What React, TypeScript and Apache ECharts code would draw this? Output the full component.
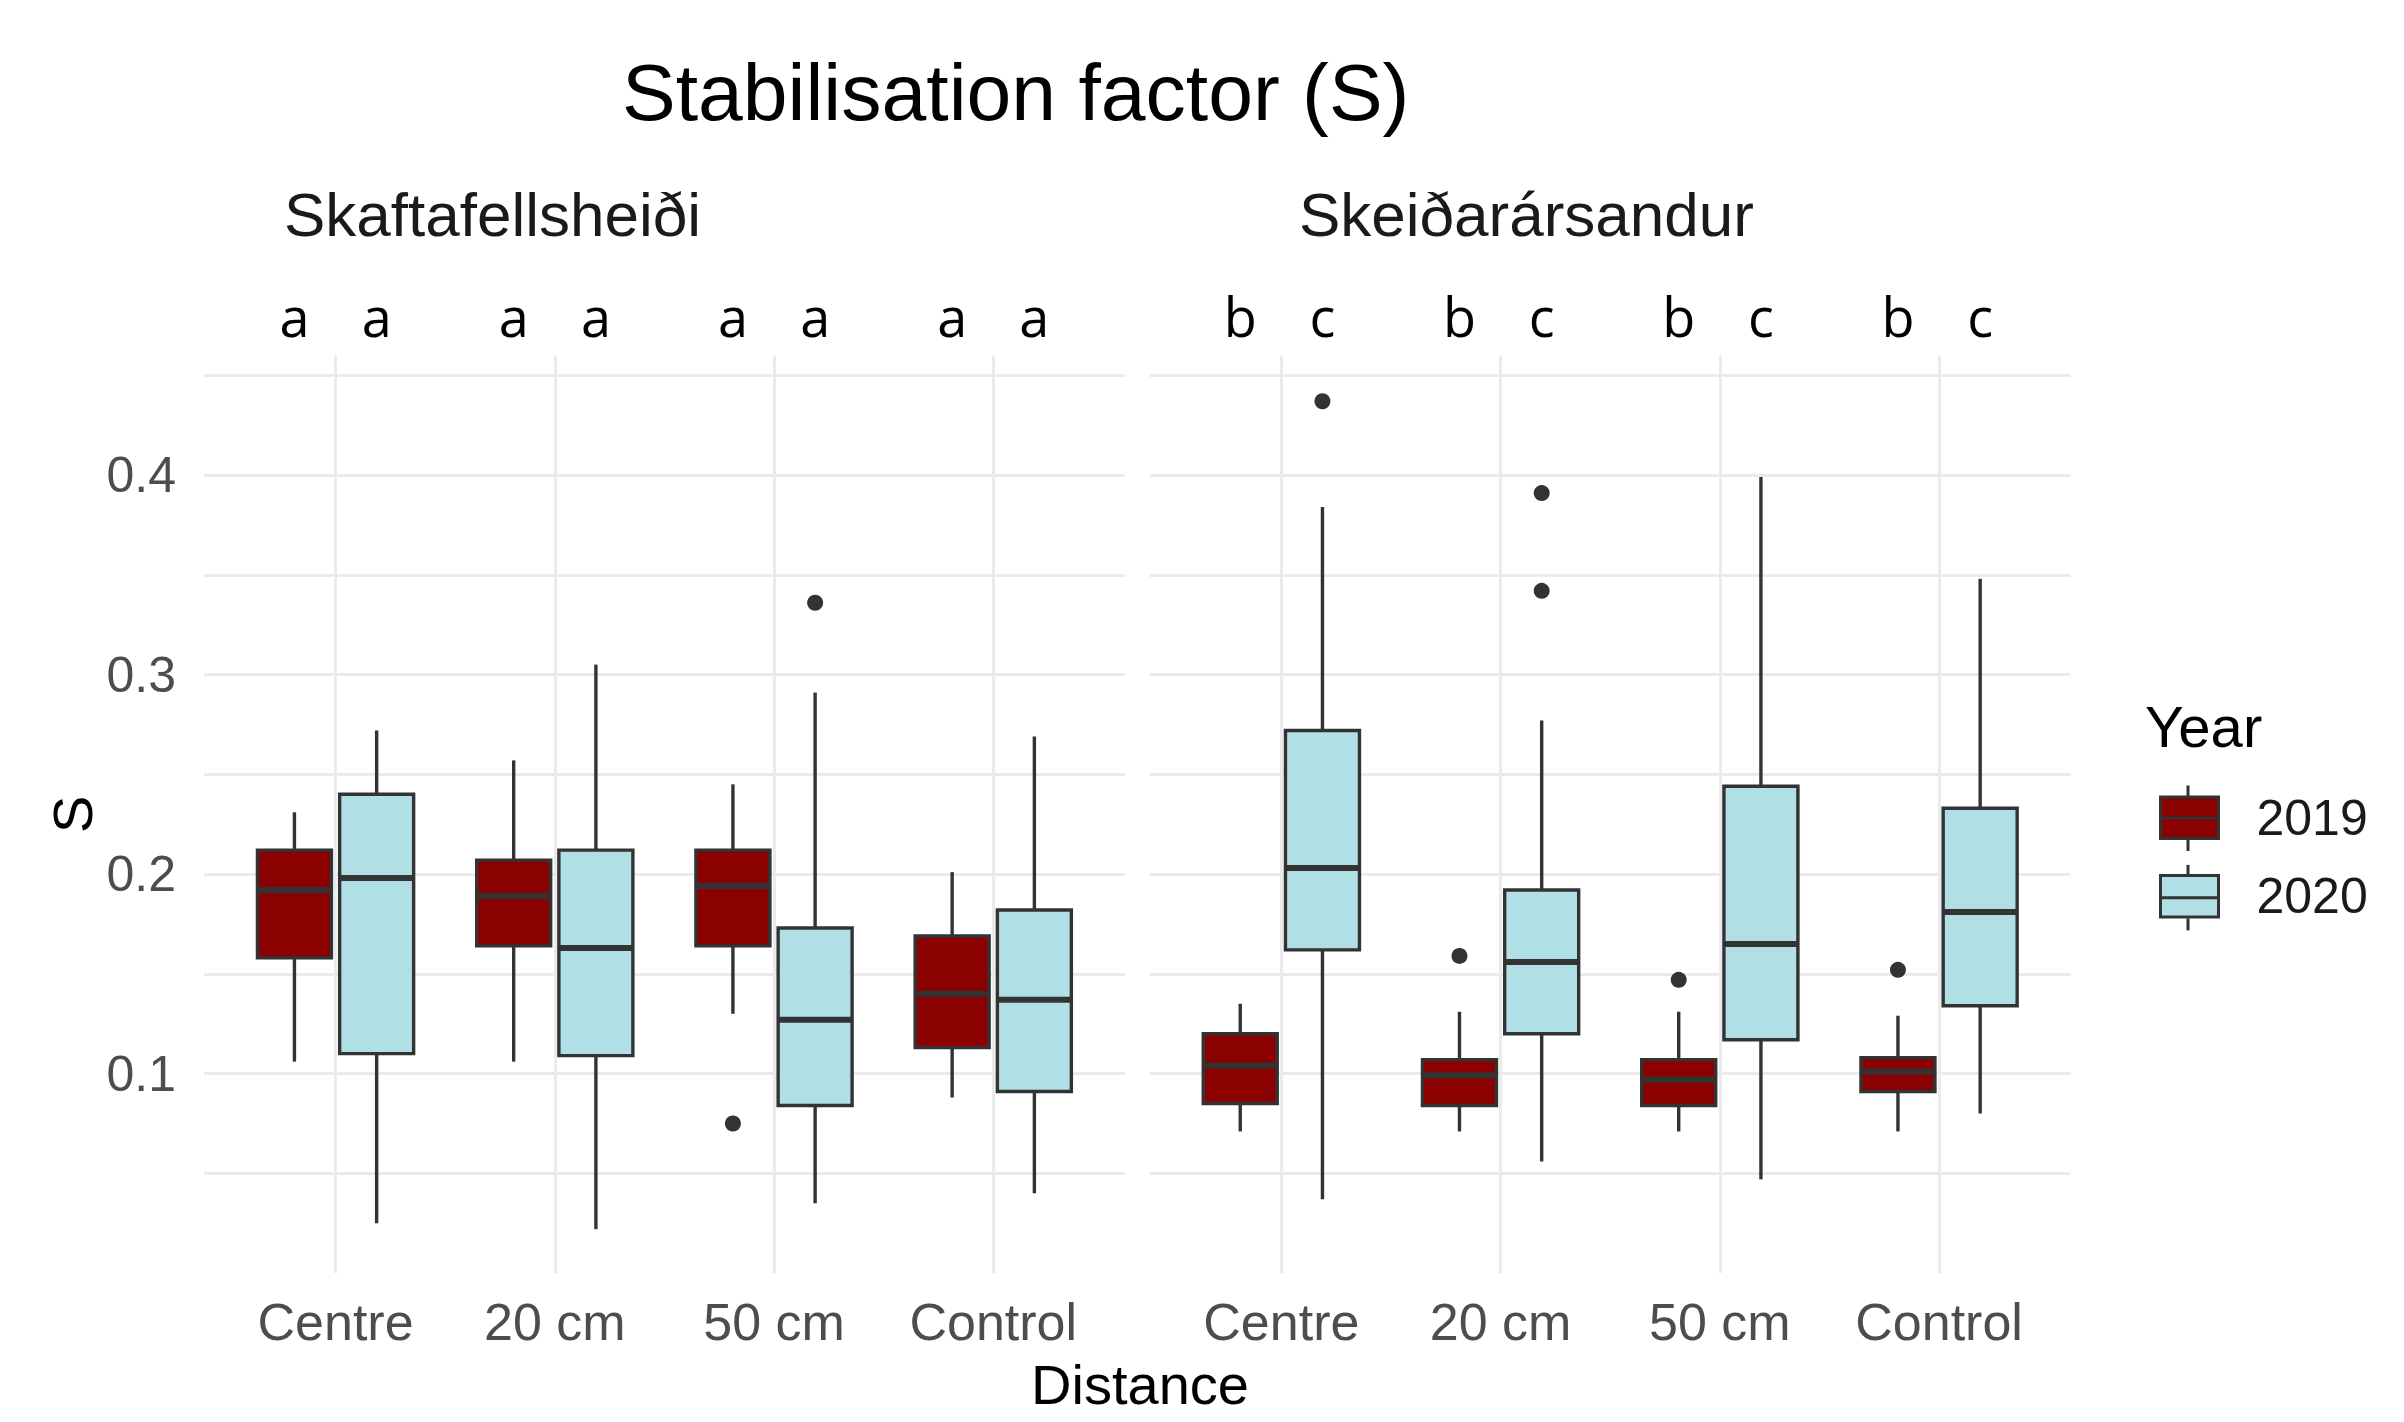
import React, { useEffect, useRef } from 'react';
import * as echarts from 'echarts';

// ---------- data ----------
const categories = ['Centre', '20 cm', '50 cm', 'Control'];
const sites = ['Skaftafellsheiði', 'Skeiðarársandur'];
const years = ['2019', '2020'];
const yearColors = ['#8B0000', '#B0E0E6'];
const yTicks = [0.1, 0.2, 0.3, 0.4];

// box statistics per category: [min, Q1, median, Q3, max]
const skaft2019 = [
  [0.106, 0.158, 0.192, 0.212, 0.231],
  [0.106, 0.164, 0.189, 0.207, 0.257],
  [0.130, 0.164, 0.194, 0.212, 0.245],
  [0.088, 0.113, 0.140, 0.169, 0.201],
];
const skaft2020 = [
  [0.025, 0.110, 0.198, 0.240, 0.272],
  [0.022, 0.109, 0.163, 0.212, 0.305],
  [0.035, 0.084, 0.127, 0.173, 0.291],
  [0.040, 0.091, 0.137, 0.182, 0.269],
];
const skeid2019 = [
  [0.071, 0.085, 0.104, 0.120, 0.135],
  [0.071, 0.084, 0.099, 0.107, 0.131],
  [0.071, 0.084, 0.097, 0.107, 0.131],
  [0.071, 0.091, 0.101, 0.108, 0.129],
];
const skeid2020 = [
  [0.037, 0.162, 0.203, 0.272, 0.384],
  [0.056, 0.120, 0.156, 0.192, 0.277],
  [0.047, 0.117, 0.165, 0.244, 0.399],
  [0.080, 0.134, 0.181, 0.233, 0.348],
];
// outliers: [category index, value]
const skaftOut2019 = [[2, 0.075]];
const skaftOut2020 = [[2, 0.336]];
const skeidOut2019 = [[1, 0.159], [2, 0.147], [3, 0.152]];
const skeidOut2020 = [[0, 0.437], [1, 0.391], [1, 0.342]];
// significance letters
const skaftLetters2019 = ['a', 'a', 'a', 'a'];
const skaftLetters2020 = ['a', 'a', 'a', 'a'];
const skeidLetters2019 = ['b', 'b', 'b', 'b'];
const skeidLetters2020 = ['c', 'c', 'c', 'c'];

const siteBoxes = [[skaft2019, skaft2020], [skeid2019, skeid2020]];
const siteOutliers = [[skaftOut2019, skaftOut2020], [skeidOut2019, skeidOut2020]];
const siteLetters = [[skaftLetters2019, skaftLetters2020], [skeidLetters2019, skeidLetters2020]];

// ---------- layout / style ----------
const FONT = '"Liberation Sans", Arial, sans-serif';
const LETTER_FONT = '"Open Sans", "Noto Sans", sans-serif';
const Y_MIN = 0;
const Y_MAX = 0.46;
const DODGE = 0.1875;
const BOX_W = 0.3375;
const yearOffsets = [-DODGE, DODGE];
const GRID_TOP = 355.4;
const GRID_H = 917.7;
const GRID_W = 920.8;
const GRID_LEFTS = [204, 1149.8];
const EDGE = '#333333';
const GRIDLINE = '#EBEBEB';

const renderBox = (fill: string) => (params: any, api: any) => {
  const x = api.value(0);
  const pMin = api.coord([x, api.value(1)]);
  const pQ1 = api.coord([x, api.value(2)]);
  const pMed = api.coord([x, api.value(3)]);
  const pQ3 = api.coord([x, api.value(4)]);
  const pMax = api.coord([x, api.value(5)]);
  const w = api.size([BOX_W, 0])[0];
  const cx = pMed[0];
  const line = { stroke: EDGE, lineWidth: 3.4 };
  return {
    type: 'group',
    children: [
      { type: 'line', shape: { x1: cx, y1: pMax[1], x2: cx, y2: pQ3[1] }, style: line },
      { type: 'line', shape: { x1: cx, y1: pQ1[1], x2: cx, y2: pMin[1] }, style: line },
      {
        type: 'rect',
        shape: { x: cx - w / 2, y: pQ3[1], width: w, height: pQ1[1] - pQ3[1] },
        style: { fill, stroke: EDGE, lineWidth: 3.4 },
      },
      {
        type: 'line',
        shape: { x1: cx - w / 2, y1: pMed[1], x2: cx + w / 2, y2: pMed[1] },
        style: { stroke: EDGE, lineWidth: 6 },
      },
    ],
  };
};

function buildOption() {
  const grids = GRID_LEFTS.map((left) => ({ left, top: GRID_TOP, width: GRID_W, height: GRID_H }));

  const xAxes = GRID_LEFTS.map((_, gi) => ({
    type: 'value',
    gridIndex: gi,
    min: 0.4,
    max: 4.6,
    splitNumber: 4,
    axisLine: { show: false },
    axisTick: { show: false },
    axisLabel: {
      margin: 23,
      fontSize: 52,
      color: '#4D4D4D',
      fontFamily: FONT,
      formatter: (v: number) => {
        const i = Math.round(v);
        return Math.abs(v - i) < 1e-6 && i >= 1 && i <= categories.length ? categories[i - 1] : '';
      },
    },
    splitLine: { show: true, showMinLine: false, showMaxLine: false, lineStyle: { color: GRIDLINE, width: 3 } },
  }));

  const yAxes = GRID_LEFTS.map((_, gi) => ({
    type: 'value',
    gridIndex: gi,
    min: Y_MIN,
    max: Y_MAX,
    interval: 0.05,
    name: gi === 0 ? 'S' : '',
    nameLocation: 'middle',
    nameGap: 104,
    nameTextStyle: { fontSize: 56, color: '#000000', fontFamily: FONT },
    axisLine: { show: false },
    axisTick: { show: false },
    axisLabel: {
      show: gi === 0,
      margin: 28,
      fontSize: 50,
      color: '#4D4D4D',
      fontFamily: FONT,
      formatter: (v: number) => {
        const t = yTicks.find((tt) => Math.abs(tt - v) < 1e-9);
        return t === undefined ? '' : t.toFixed(1);
      },
    },
    splitLine: { show: true, showMinLine: false, showMaxLine: false, lineStyle: { color: GRIDLINE, width: 3 } },
  }));

  const series: any[] = [];
  sites.forEach((_, gi) => {
    years.forEach((year, yi) => {
      series.push({
        type: 'custom',
        name: year,
        xAxisIndex: gi,
        yAxisIndex: gi,
        itemStyle: { color: yearColors[yi], borderColor: EDGE, borderWidth: 3 },
        encode: { x: 0, y: [1, 2, 3, 4, 5] },
        data: siteBoxes[gi][yi].map((s, i) => [i + 1 + yearOffsets[yi], ...s]),
        renderItem: renderBox(yearColors[yi]),
      });
      series.push({
        type: 'scatter',
        name: 'outliers',
        xAxisIndex: gi,
        yAxisIndex: gi,
        symbolSize: 16,
        itemStyle: { color: EDGE, opacity: 1 },
        data: siteOutliers[gi][yi].map(([ci, v]) => [ci + 1 + yearOffsets[yi], v]),
      });
      const letters = siteLetters[gi][yi];
      series.push({
        type: 'custom',
        name: 'letters',
        xAxisIndex: gi,
        yAxisIndex: gi,
        silent: true,
        encode: { x: 0, y: 1 },
        data: letters.map((_, i) => [i + 1 + yearOffsets[yi], Y_MAX]),
        renderItem: (params: any, api: any) => {
          const p = api.coord([api.value(0), api.value(1)]);
          return {
            type: 'text',
            x: p[0],
            y: p[1] - 12,
            style: {
              text: letters[params.dataIndex],
              fontSize: 54,
              fontFamily: LETTER_FONT,
              fill: '#000000',
              align: 'center',
              verticalAlign: 'bottom',
            },
          };
        },
      });
    });
  });

  // legend key decorations (median + whisker stubs)
  const keyX = 2159;
  const keyW = 58;
  const keyTop = 797.5;
  const keyH = 41.5;
  const keyPitch = 79.4;
  const keyGraphics: any[] = [];
  years.forEach((_, yi) => {
    const top = keyTop + yi * keyPitch;
    const cx = keyX + keyW / 2;
    keyGraphics.push(
      { type: 'line', shape: { x1: keyX, y1: top + keyH / 2, x2: keyX + keyW, y2: top + keyH / 2 }, style: { stroke: EDGE, lineWidth: 3 }, z: 100 },
      { type: 'line', shape: { x1: cx, y1: top - 12, x2: cx, y2: top }, style: { stroke: EDGE, lineWidth: 3 }, z: 100 },
      { type: 'line', shape: { x1: cx, y1: top + keyH, x2: cx, y2: top + keyH + 12 }, style: { stroke: EDGE, lineWidth: 3 }, z: 100 },
    );
  });

  return {
    animation: false,
    backgroundColor: '#FFFFFF',
    title: {
      text: 'Stabilisation factor (S)',
      left: 622,
      top: 51,
      padding: 0,
      textStyle: { fontSize: 80.5, fontWeight: 'normal', color: '#000000', fontFamily: FONT },
    },
    legend: {
      data: years,
      orient: 'vertical',
      left: keyX,
      top: keyTop - 4.75,
      itemWidth: keyW,
      itemHeight: keyH,
      itemGap: 28.4,
      icon: 'rect',
      selectedMode: false,
      padding: 0,
      itemStyle: { borderColor: EDGE, borderWidth: 3 },
      textStyle: { fontSize: 50, color: '#1A1A1A', fontFamily: FONT, padding: [0, 0, 0, 33] },
    },
    grid: grids,
    xAxis: xAxes,
    yAxis: yAxes,
    series,
    graphic: [
      {
        type: 'text',
        left: 284,
        top: 183.5,
        style: { text: sites[0], fontSize: 62, fill: '#1A1A1A', fontFamily: FONT },
      },
      {
        type: 'text',
        left: 1299,
        top: 183.5,
        style: { text: sites[1], fontSize: 62, fill: '#1A1A1A', fontFamily: FONT },
      },
      {
        type: 'text',
        x: 1140,
        y: 1356.6,
        style: { text: 'Distance', fontSize: 56, fill: '#000000', fontFamily: FONT, align: 'center', verticalAlign: 'top' },
      },
      {
        type: 'text',
        left: 2145,
        top: 697,
        style: { text: 'Year', fontSize: 58, fill: '#000000', fontFamily: FONT },
      },
      ...keyGraphics,
    ],
  };
}

export default function App() {
  const ref = useRef<HTMLDivElement>(null);
  useEffect(() => {
    if (!ref.current) return;
    const chart = echarts.init(ref.current, undefined, { renderer: 'svg' });
    chart.setOption(buildOption() as any);
    return () => chart.dispose();
  }, []);
  return (
    <div
      ref={ref}
      style={{ position: 'fixed', left: 0, top: 0, width: 2404, height: 1422, background: '#fff' }}
    />
  );
}
